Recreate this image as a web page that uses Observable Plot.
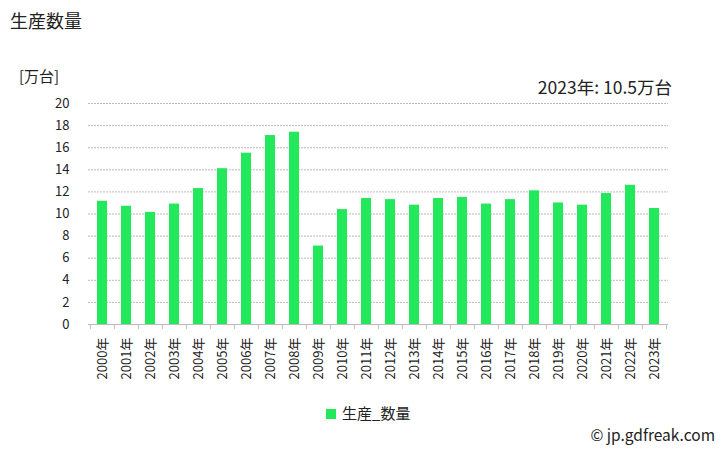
<!DOCTYPE html>
<html><head><meta charset="utf-8">
<script src="https://cdn.jsdelivr.net/npm/d3@7"></script>
<script src="https://cdn.jsdelivr.net/npm/@observablehq/plot@0.6"></script>
<style>
body{margin:0;background:#fff;font-family:"Noto Sans CJK JP","Noto Sans",sans-serif;}
#wrap{position:relative;width:728px;height:450px;overflow:hidden;}
.ov{position:absolute;color:#222;white-space:nowrap;line-height:1.2;}
</style></head>
<body><div id="wrap"></div>
<script>
const years = ["2000","2001","2002","2003","2004","2005","2006","2007","2008","2009","2010","2011","2012","2013","2014","2015","2016","2017","2018","2019","2020","2021","2022","2023"];
const values = [11.15,10.7,10.15,10.9,12.3,14.1,15.5,17.1,17.4,7.1,10.4,11.4,11.3,10.8,11.4,11.5,10.9,11.3,12.1,11.0,10.8,11.85,12.6,10.5];
const yTicks = [0,2,4,6,8,10,12,14,16,18,20];
const title = "生産数量";
const unit = "[万台]";
const seriesName = "生産_数量";
const credit = "© jp.gdfreak.com";
const color = "#23e85b";

const data = years.map((y,i)=>({year:y+"年", value:values[i]}));
const cats = data.map(d=>d.year);
const W=728,H=450,mL=88,mR=60,mT=103,mB=126;
const step=(W-mL-mR)/cats.length;

const chart = Plot.plot({
  width:W,height:H,marginLeft:mL,marginRight:mR,marginTop:mT,marginBottom:mB,
  style:{fontFamily:'"Noto Sans CJK JP","Noto Sans",sans-serif',fontSize:"12px",color:"#222",background:"#fff"},
  x:{type:"band",domain:cats,paddingInner:0.6,paddingOuter:0.3,align:0.5},
  y:{domain:[0,20]},
  marks:[
    Plot.gridY(yTicks,{stroke:"#bbb",strokeOpacity:1,strokeDasharray:"2,1"}),
    Plot.barY(data,{x:"year",y:"value",fill:color}),
    Plot.ruleY([0],{stroke:"#bbb"}),
    Plot.axisY(yTicks,{tickSize:0,tickPadding:19,label:null,fontSize:13}),
    Plot.axisX({tickSize:5,stroke:"#bbb",dx:-step/2,text:null,label:null}),
    Plot.axisX([cats[cats.length-1]],{tickSize:5,stroke:"#bbb",dx:step/2,text:null,label:null}),
    Plot.axisX({tickSize:0,tickPadding:13,tickRotate:-90,label:null,fontSize:13})
  ]
});
const wrap=document.getElementById("wrap");
chart.style.position="absolute";chart.style.left="0";chart.style.top="0";
wrap.appendChild(chart);
function ov(txt,css){const d=document.createElement("div");d.className="ov";d.textContent=txt;Object.assign(d.style,css);wrap.appendChild(d);return d;}
ov(title,{left:"10px",top:"10px",fontSize:"18px"});
ov(unit,{left:"19px",top:"67px",fontSize:"15px"});
ov(years[years.length-1]+"年: "+values[values.length-1]+"万台",{right:"56px",top:"76px",fontSize:"17.5px"});
ov(seriesName,{left:"342px",top:"404px",fontSize:"15px"});
const sw=document.createElement("div");Object.assign(sw.style,{position:"absolute",left:"326px",top:"409px",width:"10px",height:"10px",background:color});wrap.appendChild(sw);
ov(credit,{right:"13px",top:"425px",fontSize:"15.5px"});
</script></body></html>
